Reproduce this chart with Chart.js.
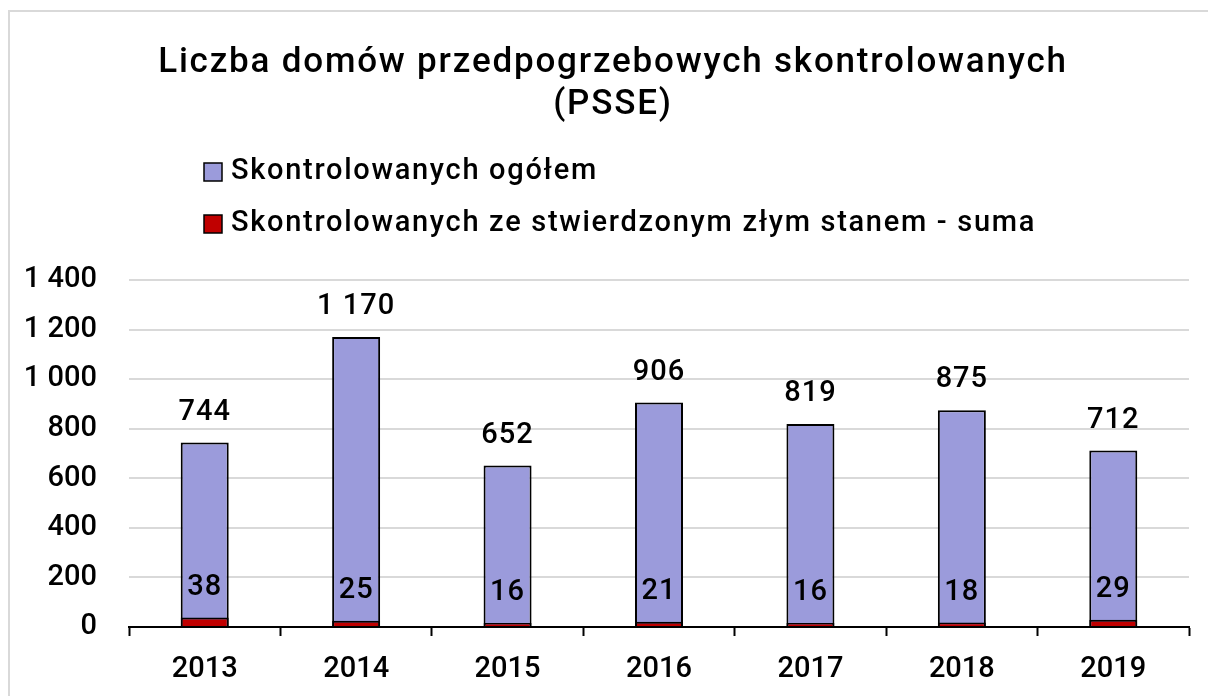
<!DOCTYPE html>
<html lang="pl">
<head>
<meta charset="utf-8">
<script src="https://cdn.jsdelivr.net/npm/chart.js@4.4.0/dist/chart.umd.min.js"></script>
<style>
  html, body { margin: 0; padding: 0; background: #fff; }
  body { width: 1208px; height: 696px; overflow: hidden; position: relative; }
  .frame { position: absolute; left: 8px; top: 10px; width: 1300px; height: 800px; border: 2px solid #d9d9d9; box-sizing: border-box; }
  .wrap { position: absolute; left: 0; top: 0; width: 1208px; height: 696px; }
</style>
</head>
<body>
<div class="frame"></div>
<div class="wrap"><canvas id="chart"></canvas></div>
<script>
// ---- Data ----
const years = ['2013', '2014', '2015', '2016', '2017', '2018', '2019'];
const totalChecked = [744, 1170, 652, 906, 819, 875, 712];
const badState = [38, 25, 16, 21, 16, 18, 29];
const seriesNames = ['Skontrolowanych ogółem', 'Skontrolowanych ze stwierdzonym złym stanem - suma'];
const titleLines = ['Liczba domów przedpogrzebowych skontrolowanych', '(PSSE)'];
const yMax = 1400;
const yStep = 200;

// ---- Style ----
const fontFamily = 'Roboto, "Open Sans", sans-serif';
const fw = 500;
const blue = '#9b9bdb';
const red = '#c00000';
const txt = '#000';
const fmt = v => String(v).replace(/\B(?=(\d{3})+(?!\d))/g, ' ');

// title, centred a bit right of the canvas middle like the original
const chartTitle = {
  id: 'chartTitle',
  afterDraw(chart) {
    const ctx = chart.ctx;
    ctx.save();
    ctx.font = `${fw} 35px ${fontFamily}`;
    ctx.letterSpacing = '1.8px';
    ctx.fillStyle = txt;
    ctx.textAlign = 'center';
    ctx.textBaseline = 'middle';
    titleLines.forEach((line, i) => ctx.fillText(line, 613, 63 + i * 42));
    ctx.restore();
  }
};

// value labels above each bar
const valueLabels = {
  id: 'valueLabels',
  afterDatasetsDraw(chart) {
    const ctx = chart.ctx;
    ctx.save();
    ctx.font = `${fw} 29px ${fontFamily}`;
    ctx.letterSpacing = '1px';
    ctx.fillStyle = txt;
    ctx.textAlign = 'center';
    ctx.textBaseline = 'middle';
    chart.data.datasets.forEach((ds, i) => {
      chart.getDatasetMeta(i).data.forEach((bar, j) => {
        ctx.fillText(fmt(ds.data[j]), bar.x, bar.y - 30);
      });
    });
    ctx.restore();
  }
};

// two-row legend, left aligned
const stackedLegend = {
  id: 'stackedLegend',
  afterDraw(chart) {
    const ctx = chart.ctx;
    ctx.save();
    ctx.font = `${fw} 29px ${fontFamily}`;
    ctx.letterSpacing = '1.7px';
    ctx.textBaseline = 'middle';
    ctx.textAlign = 'left';
    chart.data.datasets.forEach((ds, i) => {
      const cy = 172 + i * 52;
      ctx.fillStyle = ds.backgroundColor;
      ctx.fillRect(204, cy - 9, 18, 18);
      ctx.lineWidth = 1.5;
      ctx.strokeStyle = '#000';
      ctx.strokeRect(204, cy - 9, 18, 18);
      ctx.fillStyle = txt;
      ctx.fillText(ds.label, 231, cy);
    });
    ctx.restore();
  }
};

new Chart(document.getElementById('chart'), {
  type: 'bar',
  data: {
    labels: years,
    datasets: [
      { label: seriesNames[0], data: totalChecked, backgroundColor: blue, borderColor: '#000', borderWidth: 2, grouped: false, order: 2, barPercentage: 0.317, categoryPercentage: 1 },
      { label: seriesNames[1], data: badState, backgroundColor: red, borderColor: '#000', borderWidth: 2, grouped: false, order: 1, barPercentage: 0.317, categoryPercentage: 1 }
    ]
  },
  options: {
    responsive: true, maintainAspectRatio: false, animation: false,
    layout: { padding: { left: 0, right: 19, top: 280, bottom: 0 } },
    plugins: {
      legend: { display: false },
      tooltip: { enabled: false },
      title: { display: false }
    },
    scales: {
      x: {
        grid: { offset: true, drawOnChartArea: false, drawTicks: true, tickLength: 9, tickColor: '#000', tickWidth: 2 },
        border: { display: true, color: '#000', width: 2 },
        ticks: { color: txt, font: { family: fontFamily, size: 29, weight: fw }, padding: 16 },
        afterFit: s => { s.height = 69; }
      },
      y: {
        min: 0, max: yMax,
        grid: { color: '#d9d9d9', lineWidth: 2, drawTicks: false },
        border: { display: false },
        ticks: { stepSize: yStep, color: txt, font: { family: fontFamily, size: 29, weight: fw }, padding: 32, callback: v => fmt(v) },
        afterFit: s => { s.width = 129; }
      }
    }
  },
  plugins: [valueLabels, stackedLegend, chartTitle]
});
</script>
</body>
</html>
